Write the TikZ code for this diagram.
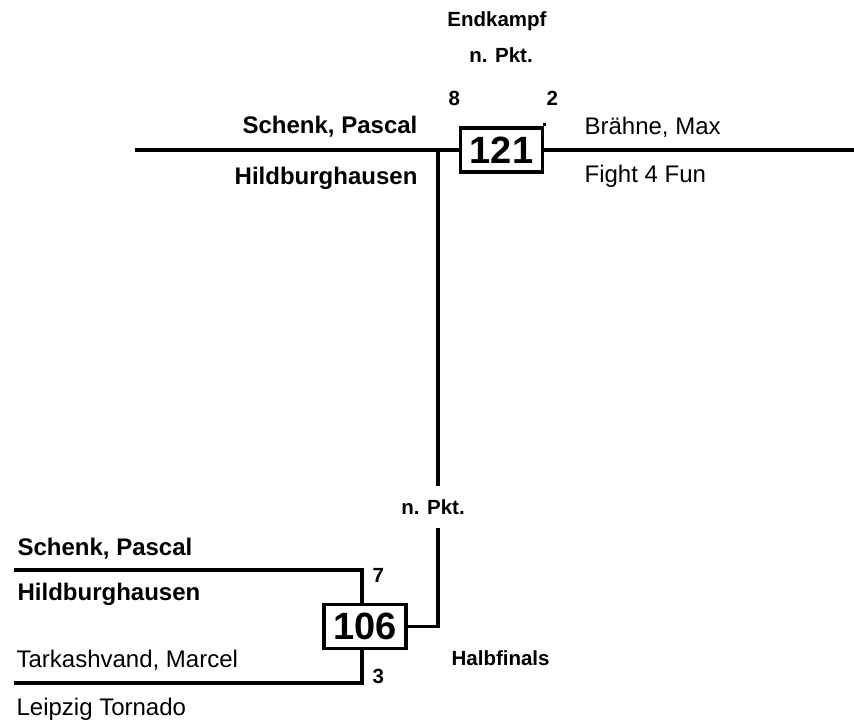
\documentclass[tikz,border=0pt]{standalone}
\usepackage{fontspec}
\setmainfont{Liberation Sans}
\tikzset{fighter/.style={inner sep=0pt, font=\fontsize{24}{28}\selectfont},
    fighterb/.style={inner sep=0pt, font=\fontsize{24}{28}\selectfont\bfseries},
    note/.style={inner sep=0pt, font=\fontsize{20.5}{24}\selectfont\bfseries},
    matchbox/.style={draw, line width=3.2pt, inner sep=0pt, minimum width=82pt,
        minimum height=44pt, font=\fontsize{38}{40}\selectfont\bfseries},
    }
\begin{document}
\begin{tikzpicture}[x=1pt, y=-1pt, line width=3.2pt]
	\useasboundingbox (0,0) rectangle (854,725);
	% Endkampf
	\node[note, anchor=base] (final) at (497,27) {Endkampf};
	\node[note, anchor=base] (pkt1) at (501,63) {n. Pkt.};
	\node[note, anchor=base west] (score8) at (447,106) {8};
	\node[note, anchor=base west] (score2) at (545,106) {2};
	\node[matchbox] (m121) at (501.5,150) {121};
	\node[fighterb, anchor=base east] (redname) at (419,133) {Schenk, Pascal};
	\node[fighterb, anchor=base east] (redclub) at (419,184) {Hildburghausen};
	\node[fighter, anchor=base west] (bluename) at (583,134) {Brähne, Max};
	\node[fighter, anchor=base west] (blueclub) at (583,182) {Fight 4 Fun};
	\coordinate (redend) at (135,150);
	\coordinate (blueend) at (854,150);
	\coordinate (join) at (438,150);
	\draw (redend) -- (m121.west);
	\draw (m121.east) -- (blueend);
	\draw (m121.north east) -- ++(0,-3);
	% Halbfinals
	\node[note, anchor=base, inner ysep=12pt] (pkt2) at (433,514) {n. Pkt.};
	\node[matchbox] (m106) at (365,626.5) {106};
	\node[fighterb, anchor=base west] (semiredname) at (16,555) {Schenk, Pascal};
	\node[fighterb, anchor=base west] (semiredclub) at (16,600) {Hildburghausen};
	\node[fighter, anchor=base west] (semibluename) at (15,667) {Tarkashvand, Marcel};
	\node[fighter, anchor=base west] (semiblueclub) at (15,715) {Leipzig Tornado};
	\node[note, anchor=base west] (score7) at (371,582) {7};
	\node[note, anchor=base west] (score3) at (371,683) {3};
	\node[note, anchor=base west] (semi) at (450,665) {Halbfinals};
	\coordinate (semiredend) at (14,570);
	\coordinate (semiblueend) at (14,683);
	\draw (semiredend) -| ([xshift=-3pt]m106.north);
	\draw (semiblueend) -| ([xshift=-3pt]m106.south);
	\draw (join) -- (join |- pkt2.north);
	\draw (join |- pkt2.south) |- (m106.east);
\end{tikzpicture}
\end{document}
